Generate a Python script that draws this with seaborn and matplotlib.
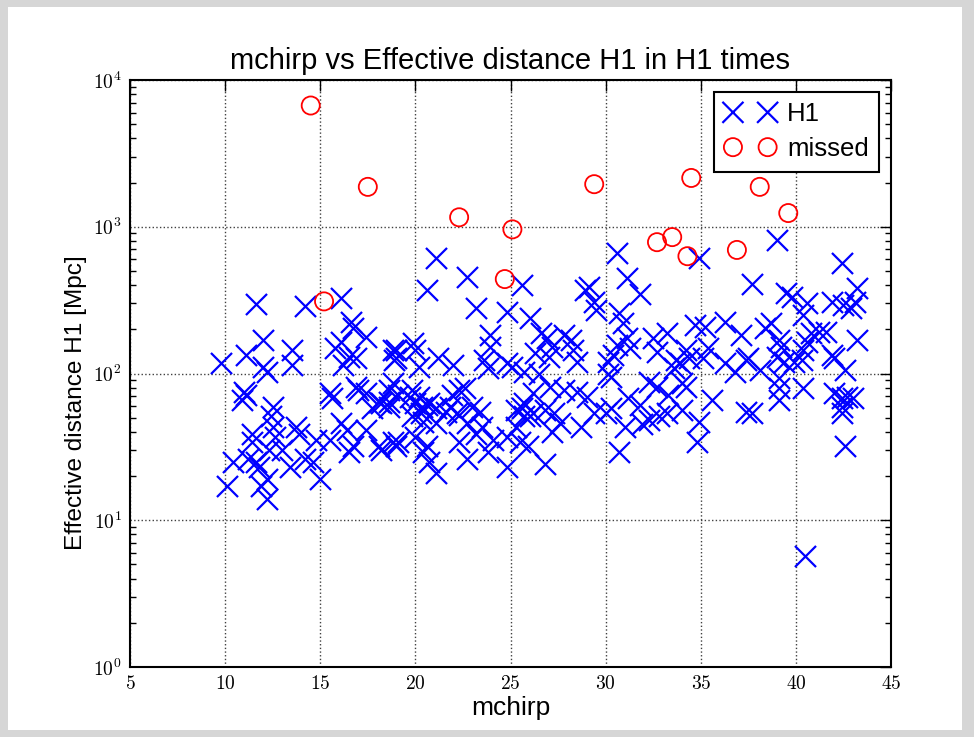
import numpy as np
import pandas as pd
import matplotlib
matplotlib.use("Agg")
import matplotlib.pyplot as plt
from matplotlib.patches import Rectangle
from matplotlib.ticker import FixedLocator, FuncFormatter, LogLocator, NullFormatter
import seaborn as sns

sns.set_theme(style="white")
plt.rcParams["font.family"] = ["Liberation Sans", "DejaVu Sans"]
plt.rcParams["mathtext.fontset"] = "cm"
plt.rcParams["text.color"] = "black"
plt.rcParams["axes.labelcolor"] = "black"

# Found injections in H1: chirp mass and effective distance (Mpc)
found_mchirp = [
    11.6, 14.2, 16.1, 16.6, 16.7, 17.4, 12.0, 13.5, 13.5, 11.1, 9.8, 12.0, 12.2, 15.8, 16.1,
    16.5, 16.2, 16.9, 18.8, 18.9, 11.1, 11.0, 10.9, 15.5, 15.6, 16.9, 17.0, 17.4, 18.1, 18.6,
    18.6, 12.5, 12.4, 12.5, 12.6, 11.4, 11.4, 13.7, 13.9, 14.8, 15.5, 16.1, 16.4, 17.4, 16.7,
    18.1, 18.8, 10.4, 11.6, 11.8, 13.4, 14.2, 14.6, 15.0, 10.1, 11.9, 12.2, 12.2, 13.0, 12.3,
    11.2,
    21.1, 22.7, 20.6, 23.2, 19.0, 19.9, 19.0, 20.0, 21.2, 22.0, 20.2, 18.8, 19.1, 18.2, 17.7,
    19.7, 20.0, 20.6, 21.1, 21.8, 22.3, 22.6, 22.2, 22.7, 20.3, 20.4, 16.5, 18.2, 19.0, 20.4,
    20.7, 21.1, 22.3, 22.7,
    19.8, 20.2, 20.35, 20.7, 21.6, 21.9, 23.0, 18.6, 19.8, 21.1, 22.3, 19.1, 20.0, 20.6, 25.6,
    26.0, 33.2,
    25.6, 24.8, 26.0, 29.1, 29.4, 29.5, 28.9, 23.9, 23.9, 26.6, 26.9, 27.2, 27.8, 28.2, 28.3,
    26.3, 27.0, 28.5, 23.6, 24.8, 25.1, 23.8, 25.7, 26.5, 30.1, 30.1, 27.1, 27.8, 28.5, 29.0,
    26.2, 25.7, 25.3, 25.7, 26.2, 26.8, 27.3, 27.6, 27.2, 28.7, 29.4, 30.0, 23.4, 23.5, 23.2,
    24.1, 23.8, 24.8, 25.3, 25.5, 25.9, 24.8, 26.8,
    34.9, 30.6, 31.1, 31.8, 37.7, 30.7, 30.9, 31.1, 30.6, 31.3, 32.5, 33.2, 32.7, 34.7, 35.2,
    36.3, 37.1, 34.2, 33.7, 33.9, 33.6, 34.4, 35.1, 35.4, 36.3, 36.8, 37.4, 30.4, 30.3, 32.3,
    32.7, 34.0, 34.2, 33.3, 31.2, 31.8, 30.3, 35.6, 37.4, 34.0, 32.8, 32.3, 31.9, 31.0, 34.9,
    34.8, 30.7,
    39.0, 42.4, 39.5, 39.8, 40.6, 40.4, 41.9, 42.5, 43.2, 43.1, 42.9, 38.4, 38.7, 39.1, 39.2,
    40.8, 41.2, 41.6, 40.6, 43.2, 37.5, 38.1, 39.0, 39.4, 39.9, 40.3, 40.4, 41.9, 42.0, 42.6,
    39.1, 40.4, 39.1, 39.1, 42.0, 42.4, 42.7, 43.0, 42.4, 42.4, 42.6, 37.7, 40.5,
]
found_dist = [
    298, 288, 327, 224, 204, 177, 169, 145, 114, 134, 118, 111, 102, 149, 164,
    130, 114, 128, 145, 123, 71, 75, 66, 74, 68, 81, 77, 74, 64, 64,
    77, 59, 51, 43, 37, 39, 34, 43, 39, 35, 35, 46, 41, 41, 32,
    32, 34, 25, 25, 23, 23, 26, 25, 19, 17, 17, 19, 14, 30, 30,
    26,
    612, 455, 371, 279, 145, 161, 128, 145, 128, 114, 111, 86, 71, 63, 58,
    69, 63, 61, 58, 59, 77, 80, 54, 46, 54, 47, 29, 30, 32, 29,
    25, 21, 34, 26,
    77, 69, 59, 63, 55, 71, 59, 59, 51, 46, 52, 34, 37, 32, 58,
    51, 54,
    401, 262, 239, 389, 307, 271, 371, 183, 151, 189, 175, 151, 183, 169, 145,
    138, 130, 120, 124, 118, 111, 109, 102, 100, 120, 100, 81, 77, 75, 69,
    74, 63, 56, 51, 54, 56, 54, 46, 40, 43, 54, 54, 55, 43, 39,
    35, 29, 37, 43, 34, 32, 23, 24,
    612, 662, 447, 348, 410, 258, 221, 175, 156, 149, 175, 189, 140, 214, 207,
    224, 183, 145, 124, 118, 109, 128, 128, 149, 118, 102, 124, 134, 95, 88,
    81, 86, 81, 71, 68, 61, 58, 66, 55, 56, 51, 48, 45, 43, 47,
    34, 29,
    812, 566, 354, 332, 302, 250, 307, 293, 383, 307, 279, 204, 221, 169, 151,
    189, 192, 192, 164, 169, 128, 106, 130, 120, 120, 124, 145, 134, 128, 106,
    93, 80, 80, 66, 74, 68, 69, 68, 59, 54, 32, 54, 5.7,
]

# Missed injections
missed_mchirp = [14.5, 15.2, 17.5, 22.3, 24.7, 25.1, 29.4, 32.7, 33.5, 34.3, 34.5, 36.9, 38.1, 39.6]
missed_dist = [6700, 310, 1870, 1160, 440, 960, 1950, 785, 850, 630, 2150, 695, 1870, 1240]

x_ticks = [5, 10, 15, 20, 25, 30, 35, 40, 45]
y_ticks = [1, 10, 100, 1000, 10000]

found = pd.DataFrame({"mchirp": found_mchirp, "dist": found_dist})
missed = pd.DataFrame({"mchirp": missed_mchirp, "dist": missed_dist})

fig = plt.figure(figsize=(9.74, 7.37), dpi=100, facecolor="#d6d6d6")
# white page inside a light grey border
page = Rectangle((8 / 974, 7 / 737), 954 / 974, 723 / 737,
                 transform=fig.transFigure, facecolor="white",
                 edgecolor="none", zorder=-10)
fig.patches.append(page)
ax = fig.add_axes([130 / 974, 70 / 737, 761 / 974, 587 / 737])
ax.set_facecolor("white")

sns.scatterplot(data=found, x="mchirp", y="dist", marker="x", color="blue",
                s=230, linewidth=1.6, label="H1", ax=ax, zorder=3)
sns.scatterplot(data=missed, x="mchirp", y="dist", marker="o", facecolor="none",
                edgecolor="red", s=170, linewidth=1.3, label="missed", ax=ax, zorder=3)

ax.set_yscale("log")
ax.set_xlim(5, 45)
ax.set_ylim(1, 1e4)
ax.xaxis.set_major_locator(FixedLocator(x_ticks))
ax.xaxis.set_major_formatter(FuncFormatter(lambda v, _: r"$%d$" % v))
ax.yaxis.set_major_locator(FixedLocator(y_ticks))
ax.yaxis.set_major_formatter(FuncFormatter(lambda v, _: r"$10^{%d}$" % round(np.log10(v))))
ax.yaxis.set_minor_locator(LogLocator(base=10, subs=np.arange(2, 10)))
ax.yaxis.set_minor_formatter(NullFormatter())

ax.tick_params(which="both", direction="in", top=True, right=True, colors="black",
               labelsize=14)
ax.tick_params(which="major", length=8, width=1, pad=6)
ax.tick_params(which="minor", length=4, width=1, left=True, right=True)
for sp in ax.spines.values():
    sp.set_color("black")
    sp.set_linewidth(1.5)

ax.grid(True, which="major", linestyle=":", color="0.25", linewidth=1.0)
ax.set_axisbelow(True)

ax.set_title("mchirp vs Effective distance H1 in H1 times", fontsize=21, pad=8,
             color="black")
ax.set_xlabel("mchirp", fontsize=19, labelpad=2)
ax.set_ylabel("Effective distance H1 [Mpc]", fontsize=17.6)
ax.yaxis.set_label_coords(-0.057, 0.45)

leg = ax.legend(loc="upper right", scatterpoints=2, scatteryoffsets=[0.5],
                fancybox=False, framealpha=1, edgecolor="black", fontsize=18.5,
                handlelength=1.95, borderpad=0.42, labelspacing=0.42,
                handletextpad=0.45, borderaxespad=0.45)
leg.get_frame().set_linewidth(1.5)
for t in leg.get_texts():
    t.set_color("black")

fig.savefig("out.png", dpi=100, facecolor=fig.get_facecolor())
